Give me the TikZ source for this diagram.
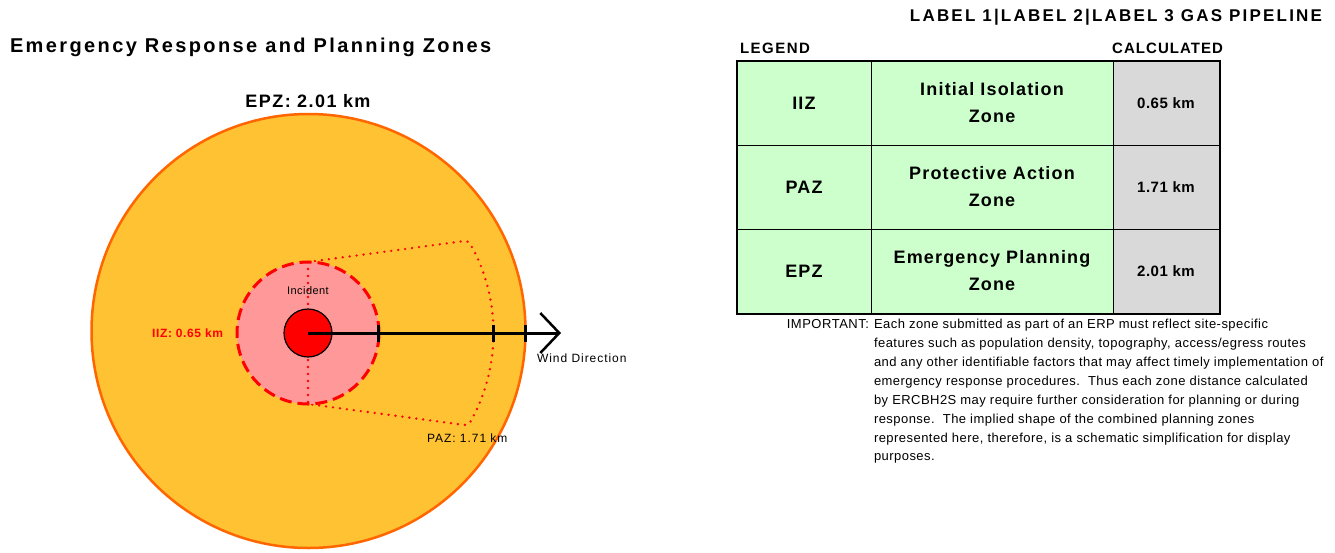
\documentclass[tikz,border=0pt]{standalone}
\usepackage{fontspec}
\setmainfont{Liberation Sans}
\usetikzlibrary{arrows.meta}

\definecolor{epzfill}{RGB}{255,194,51}
\definecolor{epzline}{RGB}{255,102,0}
\definecolor{iizfill}{RGB}{255,153,153}
\definecolor{zred}{RGB}{255,0,0}
\definecolor{cellgreen}{RGB}{204,255,204}
\definecolor{cellgrey}{RGB}{217,217,217}

% size, line spacing, tracking
\newcommand\zfont[3]{\fontsize{#1}{#2}\selectfont\addfontfeatures{LetterSpace=#3}}

\tikzset{
  txt/.style={inner sep=0pt, outer sep=0pt},
  tick/.style={line width=3pt, black},
  dotline/.style={zred, line width=2.6pt, dash pattern=on 0pt off 7pt, line cap=round},
  cell/.style={draw=black, line width=1pt, inner sep=0pt, align=center,
               minimum height=84pt, font=\bfseries\zfont{18}{27}{6.5}},
  zonecell/.style={cell, fill=cellgreen},
  valcell/.style={cell, fill=cellgrey, font=\bfseries\zfont{15}{18}{3.5}},
}

\begin{document}
\begin{tikzpicture}[x=1pt, y=-1pt]
\useasboundingbox (0,0) rectangle (1335,552);

% headings
\node[txt, anchor=west, font=\bfseries\zfont{20}{24}{12}] (title) at (10,47)
  {Emergency Response and Planning Zones};
\node[txt, anchor=east, font=\bfseries\zfont{17}{20}{13}] (hdr) at (1322,17)
  {LABEL 1|LABEL 2|LABEL 3 GAS PIPELINE};

% planning zones
\coordinate (c) at (308,333);
\node[circle, draw=epzline, fill=epzfill, line width=2.5pt, minimum size=434pt,
      inner sep=0pt] (epz) at (308.5,331) {};
\node[txt, font=\bfseries\zfont{18}{22}{8}] (epzlbl) at (308,101) {EPZ: 2.01 km};

% protective action sector
\coordinate (iiztop) at (308,262);
\coordinate (iizbot) at (308,404);
\draw[dotline, rounded corners=4pt]
  (iiztop) -- ([shift={(c)}]-30:185) arc[start angle=-30, end angle=30, radius=185] -- (iizbot);

\node[circle, draw=zred, fill=iizfill, line width=3pt, dash pattern=on 12pt off 6pt,
      minimum size=142pt, inner sep=0pt] (iiz) at (c) {};
\draw[dotline] (iiztop) -- (iizbot);

\node[circle, draw=black, fill=zred, line width=1.2pt, minimum size=48pt, inner sep=0pt]
  (inc) at (c) {};
\node[txt, font=\zfont{11}{13}{4}] (inclbl) at (308,291) {Incident};

% wind direction
\coordinate (wind) at (561,333);
\draw[line width=3pt, -{Straight Barb[length=19pt, width=40pt, line width=2.5pt]}]
  (inc.center) -- (wind);
\draw[tick] (378,325) -- (378,342);
\draw[tick] (493,325) -- (493,342);
\draw[tick] (525,325) -- (525,342);

\node[txt, anchor=west, font=\zfont{12}{14}{8}] (windlbl) at (537,358) {Wind Direction};
\node[txt, anchor=west, font=\zfont{12}{14}{8}] (pazlbl) at (427,438) {PAZ: 1.71 km};
\node[txt, anchor=east, text=zred, font=\bfseries\zfont{12}{14}{5}] (iizlbl) at (223,333)
  {IIZ: 0.65 km};

% legend table
\node[txt, anchor=west, font=\bfseries\zfont{15}{18}{10}] (legend) at (740,48) {LEGEND};
\node[txt, anchor=east, font=\bfseries\zfont{15}{18}{7}] (calc) at (1223,48) {CALCULATED};

\node[zonecell, minimum width=134pt] (a1) at (804,103) {IIZ};
\node[zonecell, minimum width=242pt] (b1) at (992,103) {Initial Isolation\\Zone};
\node[valcell,  minimum width=106pt] (v1) at (1166,103) {0.65 km};
\node[zonecell, minimum width=134pt] (a2) at (804,187) {PAZ};
\node[zonecell, minimum width=242pt] (b2) at (992,187) {Protective Action\\Zone};
\node[valcell,  minimum width=106pt] (v2) at (1166,187) {1.71 km};
\node[zonecell, minimum width=134pt] (a3) at (804,271) {EPZ};
\node[zonecell, minimum width=242pt] (b3) at (992,271) {Emergency Planning\\Zone};
\node[valcell,  minimum width=106pt] (v3) at (1166,271) {2.01 km};
\draw[line width=2pt] (a1.north west) rectangle (v3.south east);

% note
\node[txt, anchor=north east, font=\zfont{13}{18.86}{4}] (imp) at (869,319.5) {IMPORTANT:};
\node[txt, anchor=north west, align=left, font=\zfont{13}{18.86}{3.5}] (note) at (874,319.5)
  {Each zone submitted as part of an ERP must reflect site-specific\\
   features such as population density, topography, access/egress routes\\
   and any other identifiable factors that may affect timely implementation of\\
   emergency response procedures.\ \ Thus each zone distance calculated\\
   by ERCBH2S may require further consideration for planning or during\\
   response.\ \ The implied shape of the combined planning zones\\
   represented here, therefore, is a schematic simplification for display\\
   purposes.};
\end{tikzpicture}
\end{document}
